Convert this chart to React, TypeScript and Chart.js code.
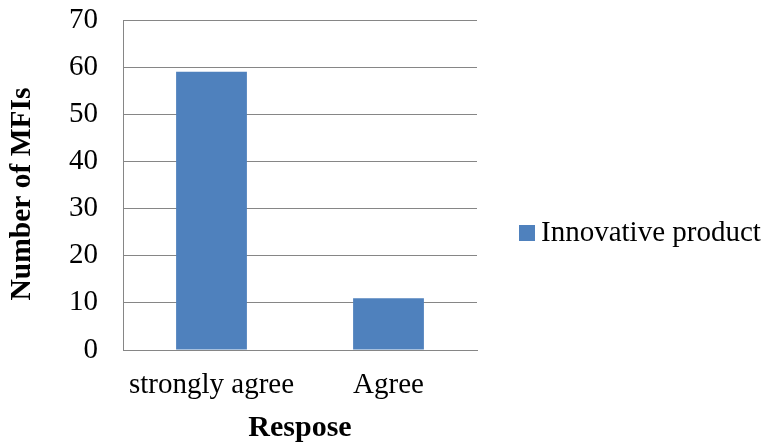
import { useEffect, useRef } from 'react';
import { Chart, registerables } from 'chart.js';

Chart.register(...registerables);

// Survey responses: number of MFIs per answer
const categories = ['strongly agree', 'Agree'];
const innovativeProduct = [59, 11];
const seriesLabel = 'Innovative product';
const xAxisTitle = 'Respose';
const yAxisTitle = 'Number of MFIs';
const yMin = 0;
const yMax = 70;
const yStep = 10;

const FONT = '"Liberation Serif", "Times New Roman", Times, serif';
const BAR_COLOR = '#4F81BD';
const GRID_COLOR = '#868686';

// Legend drawn at the right side of the plot, vertically offset like an office chart
const sideLegend = {
  id: 'sideLegend',
  afterDraw(chart: any) {
    const { ctx, chartArea } = chart;
    const ds = chart.data.datasets[0];
    const boxX = chartArea.right + 42;
    const centerY = (chartArea.top + chartArea.bottom) / 2 + 48;
    const box = 16;
    ctx.save();
    ctx.fillStyle = ds.backgroundColor;
    ctx.fillRect(boxX, centerY - box / 2, box, box);
    ctx.fillStyle = '#000';
    ctx.font = `29px ${FONT}`;
    ctx.textAlign = 'left';
    ctx.textBaseline = 'middle';
    ctx.fillText(ds.label, boxX + box + 6, centerY);
    ctx.restore();
  },
};

// Rotated value-axis title, sitting slightly below the plot's vertical middle
const valueAxisTitle = {
  id: 'valueAxisTitle',
  afterDraw(chart: any) {
    const { ctx, chartArea } = chart;
    const cy = (chartArea.top + chartArea.bottom) / 2 + 9;
    ctx.save();
    ctx.translate(22, cy);
    ctx.rotate(-Math.PI / 2);
    ctx.fillStyle = '#000';
    ctx.font = `bold 29.5px ${FONT}`;
    ctx.textAlign = 'center';
    ctx.textBaseline = 'middle';
    ctx.fillText(yAxisTitle, 0, 0);
    ctx.restore();
  },
};

export default function App() {
  const canvasRef = useRef<HTMLCanvasElement | null>(null);

  useEffect(() => {
    document.body.style.margin = '0';
    const canvas = canvasRef.current;
    if (!canvas) return;
    const chart = new Chart(canvas, {
      type: 'bar',
      data: {
        labels: categories,
        datasets: [
          {
            label: seriesLabel,
            data: innovativeProduct,
            backgroundColor: BAR_COLOR,
            borderWidth: 0,
            categoryPercentage: 1,
            barPercentage: 0.4,
          },
        ],
      },
      options: {
        responsive: false,
        animation: false,
        devicePixelRatio: 1,
        layout: { padding: { top: 20, right: 289, left: 0, bottom: 0 } },
        plugins: {
          legend: { display: false },
          tooltip: { enabled: false },
        },
        scales: {
          x: {
            grid: { display: false, drawTicks: false },
            border: { display: true, color: GRID_COLOR, width: 1 },
            ticks: {
              color: '#000',
              font: { family: FONT, size: 29 },
              padding: 18,
            },
            title: {
              display: true,
              text: xAxisTitle,
              color: '#000',
              font: { family: FONT, size: 30, weight: 'bold', lineHeight: 1 },
              padding: { top: 0, bottom: 0 },
            },
            afterFit(scale: any) {
              scale.height = 93;
              scale.paddingLeft = 0;
              scale.paddingRight = 0;
            },
          },
          y: {
            min: yMin,
            max: yMax,
            grid: { color: GRID_COLOR, lineWidth: 1, drawTicks: false },
            border: { display: true, color: GRID_COLOR, width: 1 },
            ticks: {
              stepSize: yStep,
              color: '#000',
              font: { family: FONT, size: 29 },
              padding: 25,
            },
            title: { display: false },
            afterFit(scale: any) {
              scale.width = 123;
              scale.paddingTop = 0;
              scale.paddingBottom = 0;
            },
          },
        },
      } as any,
      plugins: [sideLegend, valueAxisTitle],
    });
    return () => chart.destroy();
  }, []);

  return (
    <div style={{ width: 766, height: 443, background: '#fff' }}>
      <canvas ref={canvasRef} width={766} height={443} style={{ display: 'block' }} />
    </div>
  );
}
